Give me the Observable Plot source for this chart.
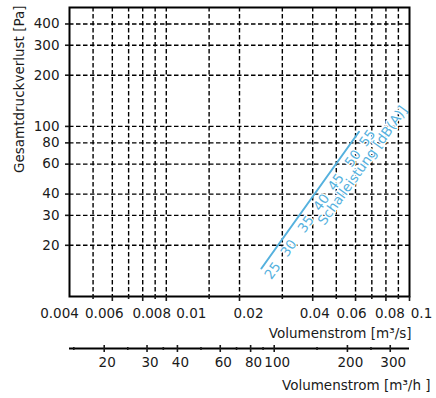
<!DOCTYPE html>
<html>
<head>
<meta charset="utf-8">
<script src="https://cdn.jsdelivr.net/npm/d3@7"></script>
<script src="https://cdn.jsdelivr.net/npm/@observablehq/plot@0.6"></script>
<style>
  html, body { margin: 0; padding: 0; background: #fff; }
  #chart svg { display: block; }
</style>
</head>
<body>
<div id="chart"></div>
<script>
// ---- data ----
const xDomain = [0.004, 0.1];          // m³/s
const yDomain = [10, 500];             // Pa
const xGridValues = [0.005, 0.006, 0.007, 0.008, 0.009, 0.01, 0.015, 0.02, 0.03, 0.04, 0.05, 0.06, 0.07, 0.08, 0.09];
const xMajorTicks = [0.006, 0.008, 0.01, 0.02, 0.04, 0.06, 0.08, 0.1];
const xMinorTicks = [0.005, 0.007, 0.009, 0.015, 0.03, 0.05, 0.07, 0.09];
const xLabelValues = [0.004, 0.006, 0.008, 0.01, 0.02, 0.04, 0.06, 0.08, 0.1];
const xLabels = ["0.004", "0.006", "0.008", "0.01", "0.02", "0.04", "0.06", "0.08", "0.1"];
const yTicks = [20, 30, 40, 60, 80, 100, 200, 300, 400];
const yLabels = ["20", "30", "40", "60", "80", "100", "200", "300", "400"];
const hDomain = [14.4, 360];           // m³/h
const hLabeledTicks = [20, 30, 40, 60, 80, 100, 200, 300];
const hMinorTicks = [15, 25, 35, 50, 70, 90, 150, 250];

const curveFlow = [0.0246, 0.062];     // m³/s
const curvePressure = [14.6, 93];      // Pa

const dbLevels = [25, 30, 35, 40, 45, 50, 55];
const dbFlow = [0.0253, 0.0294, 0.0346, 0.0401, 0.046, 0.054, 0.062];
const dbPressure = [15.4, 20.9, 28.9, 38.8, 51.0, 70.3, 92.7];

const yTitle = "Gesamtdruckverlust [Pa]";
const xTitle = "Volumenstrom [m³/s]";
const hTitle = "Volumenstrom [m³/h ]";
const dbTitle = "Schalleistung [dB(A)]";

// ---- tables ----
const curve = curveFlow.map((q, i) => ({q, p: curvePressure[i]}));
const dbMarks = dbLevels.map((db, i) => ({db, q: dbFlow[i], p: dbPressure[i]}));
const yTickTable = yTicks.map((v, i) => ({v, label: yLabels[i]}));

// ---- style ----
const blue = "#55b1de";
const ink = "#1a1a1a";
const font = "DejaVu Sans";
const dash = {stroke: "#000", strokeWidth: 1.4, strokeDasharray: "4.5,2.5"};
const angle = -54.3;
const xLabelNudge = [-10, -8, 9, 25, 9, 2, -4, 4, 12];
const blueText = {fill: blue, stroke: "white", strokeWidth: 2.5, fontFamily: "DejaVu Sans", fontSize: 13.5,
  textAnchor: "middle", lineAnchor: "middle"};

const main = Plot.plot({
  width: 436, height: 342,
  marginTop: 7, marginRight: 27, marginBottom: 46, marginLeft: 69,
  style: {fontFamily: font, fontSize: "13.5px", color: ink, background: "white", overflow: "visible"},
  x: {type: "log", domain: xDomain, axis: null},
  y: {type: "log", domain: yDomain, axis: null},
  marks: [
    Plot.ruleX(xGridValues, dash),
    Plot.ruleY(yTicks, dash),
    Plot.line(curve, {x: "q", y: "p", stroke: blue, strokeWidth: 2}),
    Plot.text(dbMarks, {x: "q", y: "p", text: d => String(d.db), rotate: angle, dx: 8.5, dy: 6.1, ...blueText}),
    Plot.text([dbMarks[5]], {x: "q", y: "p", text: () => dbTitle, rotate: angle, dx: 18.3, dy: 13.1, ...blueText}),
    Plot.frame({stroke: "#000", strokeWidth: 2}),
    Plot.axisY({ticks: yTicks, tickSize: 4, strokeWidth: 1.6, label: null, tickFormat: () => ""}),
    Plot.text(yTickTable, {y: "v", text: "label", frameAnchor: "left", textAnchor: "end", dx: -10, fill: ink}),
    Plot.axisX({ticks: xMajorTicks, tickSize: 5, strokeWidth: 1.6, label: null, tickFormat: () => ""}),
    Plot.axisX({ticks: xMinorTicks, tickSize: 3, strokeWidth: 1.6, label: null, tickFormat: () => ""}),
    ...xLabelValues.map((v, i) => Plot.text([v], {
      x: d => d, text: () => xLabels[i], frameAnchor: "bottom", lineAnchor: "top",
      dy: 12, dx: xLabelNudge[i], fill: ink
    })),
    Plot.text([yTitle], {frameAnchor: "top-left", text: d => d, rotate: -90, textAnchor: "end",
      lineAnchor: "middle", dx: -50, dy: -2, fill: ink}),
    Plot.text([xTitle], {frameAnchor: "bottom-right", text: d => d, textAnchor: "end",
      lineAnchor: "middle", dx: 2, dy: 37, fill: ink})
  ]
});

const second = Plot.plot({
  width: 436, height: 56,
  marginTop: 6, marginRight: 27, marginBottom: 50, marginLeft: 69,
  style: {fontFamily: font, fontSize: "13.5px", color: ink, background: "white", overflow: "visible"},
  x: {type: "log", domain: hDomain, axis: null},
  y: {domain: [0, 1], axis: null},
  marks: [
    Plot.ruleY([0], {stroke: "#000", strokeWidth: 2}),
    Plot.axisX({ticks: hLabeledTicks, anchor: "bottom", tickSize: 4, strokeWidth: 1.6, label: null, tickFormat: () => ""}),
    Plot.axisX({ticks: hLabeledTicks, anchor: "top", tickSize: 4, strokeWidth: 1.6, label: null, tickFormat: () => ""}),
    Plot.axisX({ticks: hMinorTicks, anchor: "bottom", tickSize: 2, strokeWidth: 1.6, label: null, tickFormat: () => ""}),
    Plot.axisX({ticks: hMinorTicks, anchor: "top", tickSize: 2, strokeWidth: 1.6, label: null, tickFormat: () => ""}),
    Plot.text(hLabeledTicks, {x: d => d, text: d => String(d), frameAnchor: "bottom", lineAnchor: "top",
      dy: 9, dx: 3, fill: ink}),
    Plot.text([hTitle], {frameAnchor: "bottom-right", text: d => d, textAnchor: "end",
      lineAnchor: "middle", dx: 21, dy: 37.5, fill: ink})
  ]
});

document.getElementById("chart").append(main, second);
</script>
</body>
</html>
